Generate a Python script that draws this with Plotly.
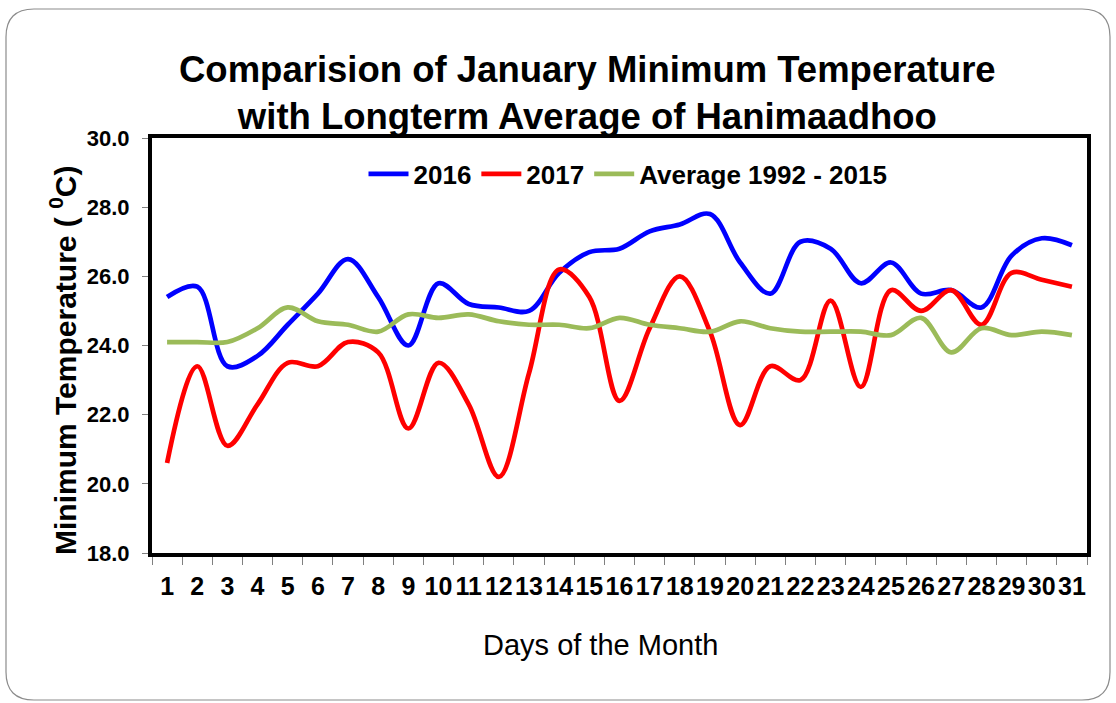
import plotly.graph_objects as go

days = [str(d) for d in range(1, 32)]
t2016 = [25.4, 25.7, 23.4, 23.7, 24.6, 25.5, 26.5, 25.4, 24.0, 25.8,
         25.2, 25.1, 25.0, 26.1, 26.7, 26.8, 27.3, 27.5, 27.8, 26.4,
         25.5, 27.0, 26.8, 25.8, 26.4, 25.5, 25.6, 25.1, 26.6, 27.1, 26.9]
t2017 = [20.6, 23.4, 21.1, 22.3, 23.5, 23.4, 24.1, 23.8, 21.6, 23.5,
         22.3, 20.2, 23.2, 26.2, 25.4, 22.4, 24.5, 26.0, 24.4, 21.7,
         23.4, 23.0, 25.3, 22.8, 25.6, 25.0, 25.6, 24.6, 26.1, 25.9, 25.7]
tavg = [24.1, 24.1, 24.1, 24.5, 25.1, 24.7, 24.6, 24.4, 24.9, 24.8,
        24.9, 24.7, 24.6, 24.6, 24.5, 24.8, 24.6, 24.5, 24.4, 24.7,
        24.5, 24.4, 24.4, 24.4, 24.3, 24.8, 23.8, 24.5, 24.3, 24.4, 24.3]
series_names = ["2016", "2017", "Average 1992 - 2015"]
y_ticks = [18, 20, 22, 24, 26, 28, 30]

W, H = 1116, 703
L, R, T, B = 152, 1087, 138, 553
FONT = "Arial, Liberation Sans, sans-serif"

def px(x):
    return (x - L) / (R - L)

def py(y):
    return (B - y) / (B - T)

fig = go.Figure()
colors = ["#0000FF", "#FF0000", "#9BBB59"]
for name, vals, c in zip(series_names, [t2016, t2017, tavg], colors):
    fig.add_trace(go.Scatter(x=days, y=vals, name=name, mode="lines",
                             line=dict(color=c, width=4.7, shape="spline", smoothing=1)))

# rounded outer border
x0, x1, y0, y1, r = 6, 1110, 9, 700, 28
path = (f"M {px(x0+r)},{py(y0)} L {px(x1-r)},{py(y0)} "
        f"Q {px(x1)},{py(y0)} {px(x1)},{py(y0+r)} "
        f"L {px(x1)},{py(y1-r)} Q {px(x1)},{py(y1)} {px(x1-r)},{py(y1)} "
        f"L {px(x0+r)},{py(y1)} Q {px(x0)},{py(y1)} {px(x0)},{py(y1-r)} "
        f"L {px(x0)},{py(y0+r)} Q {px(x0)},{py(y0)} {px(x0+r)},{py(y0)} Z")
fig.add_shape(type="path", path=path, xref="paper", yref="paper",
              line=dict(color="#8c8c8c", width=1.2), layer="below")

fig.update_layout(
    width=W, height=H,
    margin=dict(l=L, r=W - R, t=T, b=H - B),
    paper_bgcolor="white", plot_bgcolor="white",
    font=dict(family=FONT, color="black"),
    showlegend=True,
    legend=dict(orientation="h", x=px(628), xanchor="center", y=py(174), yanchor="middle",
                font=dict(size=26, family=FONT, color="black", weight="bold"),
                bgcolor="rgba(0,0,0,0)", itemwidth=40, traceorder="normal"),
)
fig.update_xaxes(type="category", range=[-0.5, 30.5], tickson="boundaries",
                 ticks="outside", ticklen=8,
                 tickcolor="#808080", tickwidth=1, tickangle=0, ticklabelstandoff=8,
                 tickfont=dict(size=25, family=FONT, color="black", weight="bold"),
                 showline=True, linewidth=4, linecolor="black", mirror=True,
                 showgrid=False, zeroline=False)
fig.update_yaxes(range=[18, 30], tickvals=y_ticks, tickformat=".1f", ticks="outside",
                 ticklen=6, tickcolor="#808080", tickwidth=1, ticklabelstandoff=8,
                 tickfont=dict(size=22, family=FONT, color="black", weight="bold"),
                 showline=True, linewidth=4, linecolor="black", mirror=True,
                 showgrid=False, zeroline=False)

fig.add_annotation(text="Comparision of January Minimum Temperature<br>with Longterm Average of Hanimaadhoo",
                   xref="paper", yref="paper", x=px(587), y=py(93), showarrow=False,
                   font=dict(size=36.5, family=FONT, color="black", weight="bold"),
                   align="center", xanchor="center", yanchor="middle")
fig.add_annotation(text="Minimum Temperature ( <sup>0</sup>C)", textangle=-90,
                   xref="paper", yref="paper", x=px(63), y=py(360), showarrow=False,
                   font=dict(size=30, family=FONT, color="black", weight="bold"),
                   xanchor="center", yanchor="middle")
fig.add_annotation(text="Days of the Month", xref="paper", yref="paper",
                   x=px(600), y=py(645), showarrow=False,
                   font=dict(size=29, family=FONT, color="black"),
                   xanchor="center", yanchor="middle")

fig.write_html("out.html", config={"displayModeBar": False},
               post_script="document.body.style.margin='0px';")
